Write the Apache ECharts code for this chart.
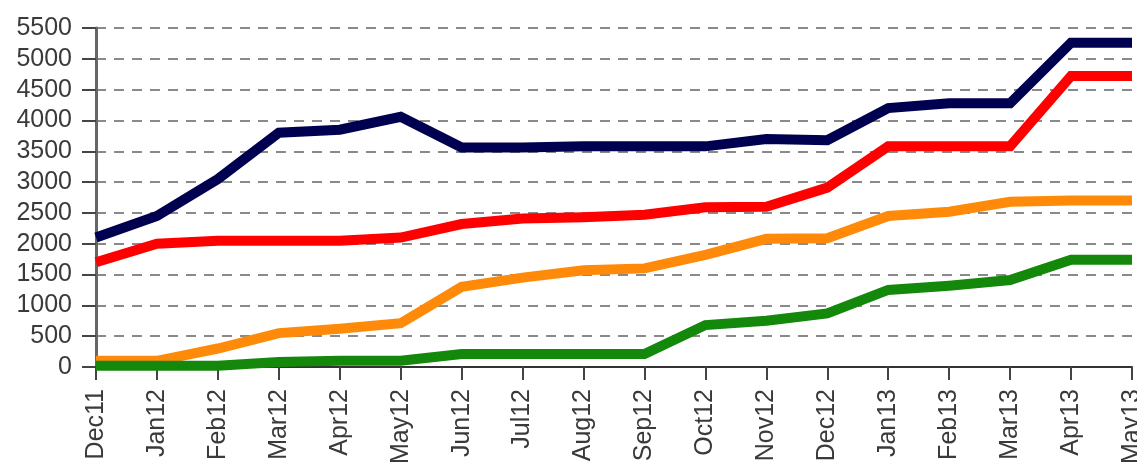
<!DOCTYPE html>
<html>
<head>
<meta charset="utf-8">
<script src="https://cdn.jsdelivr.net/npm/echarts@6/dist/echarts.min.js"></script>
<style>
html,body{margin:0;padding:0;background:#fff;overflow:hidden;}
#c{width:1137px;height:467px;}
</style>
</head>
<body>
<div id="c"></div>
<script>
const categories = ['Dec11','Jan12','Feb12','Mar12','Apr12','May12','Jun12','Jul12','Aug12','Sep12','Oct12','Nov12','Dec12','Jan13','Feb13','Mar13','Apr13','May13'];
const navySeries   = [2100,2450,3050,3800,3850,4060,3560,3560,3580,3580,3580,3700,3680,4200,4280,4280,5260,5260];
const redSeries    = [1700,2000,2050,2050,2050,2100,2320,2410,2430,2470,2590,2600,2910,3580,3580,3580,4720,4720];
const orangeSeries = [100,100,300,550,620,710,1300,1450,1570,1600,1820,2080,2090,2450,2520,2680,2700,2700];
const greenSeries  = [20,20,20,80,100,100,210,210,210,210,680,750,870,1250,1320,1410,1740,1740];
const yTicks = {min:0, max:5500, interval:500};

const chart = echarts.init(document.getElementById('c'), null, {width:1137, height:467});
const font = {fontFamily:'Liberation Sans', fontSize:25, color:'#3a3a3a'};
function line(name, data, color){
  return {name, type:'line', data, symbol:'none', smooth:false, clip:false,
    lineStyle:{width:10, color, cap:'butt', join:'miter'}, itemStyle:{color}};
}
chart.setOption({
  animation:false,
  backgroundColor:'#ffffff',
  grid:{left:96, width:1036, top:28, height:339, containLabel:false, outerBoundsMode:'none'},
  xAxis:{type:'category', data:categories, boundaryGap:false,
    axisLine:{lineStyle:{color:'#333', width:2}},
    axisTick:{show:true, length:13, lineStyle:{color:'#444', width:2}},
    axisLabel:Object.assign({rotate:90, margin:22, interval:0, hideOverlap:false}, font),
    splitLine:{show:false}},
  yAxis:{type:'value', min:yTicks.min, max:yTicks.max, interval:yTicks.interval,
    axisLine:{show:true, lineStyle:{color:'#666', width:3}},
    axisTick:{show:true, length:14, lineStyle:{color:'#444', width:2}},
    axisLabel:Object.assign({margin:24, formatter:v => String(v)}, font),
    splitLine:{show:true, lineStyle:{color:'#8a8a8a', width:2, type:[10,8]}}},
  series:[
    line('A', navySeries, '#000050'),
    line('B', redSeries, '#ff0000'),
    line('C', orangeSeries, '#ff8a0a'),
    line('D', greenSeries, '#13880a')
  ]
});
</script>
</body>
</html>
